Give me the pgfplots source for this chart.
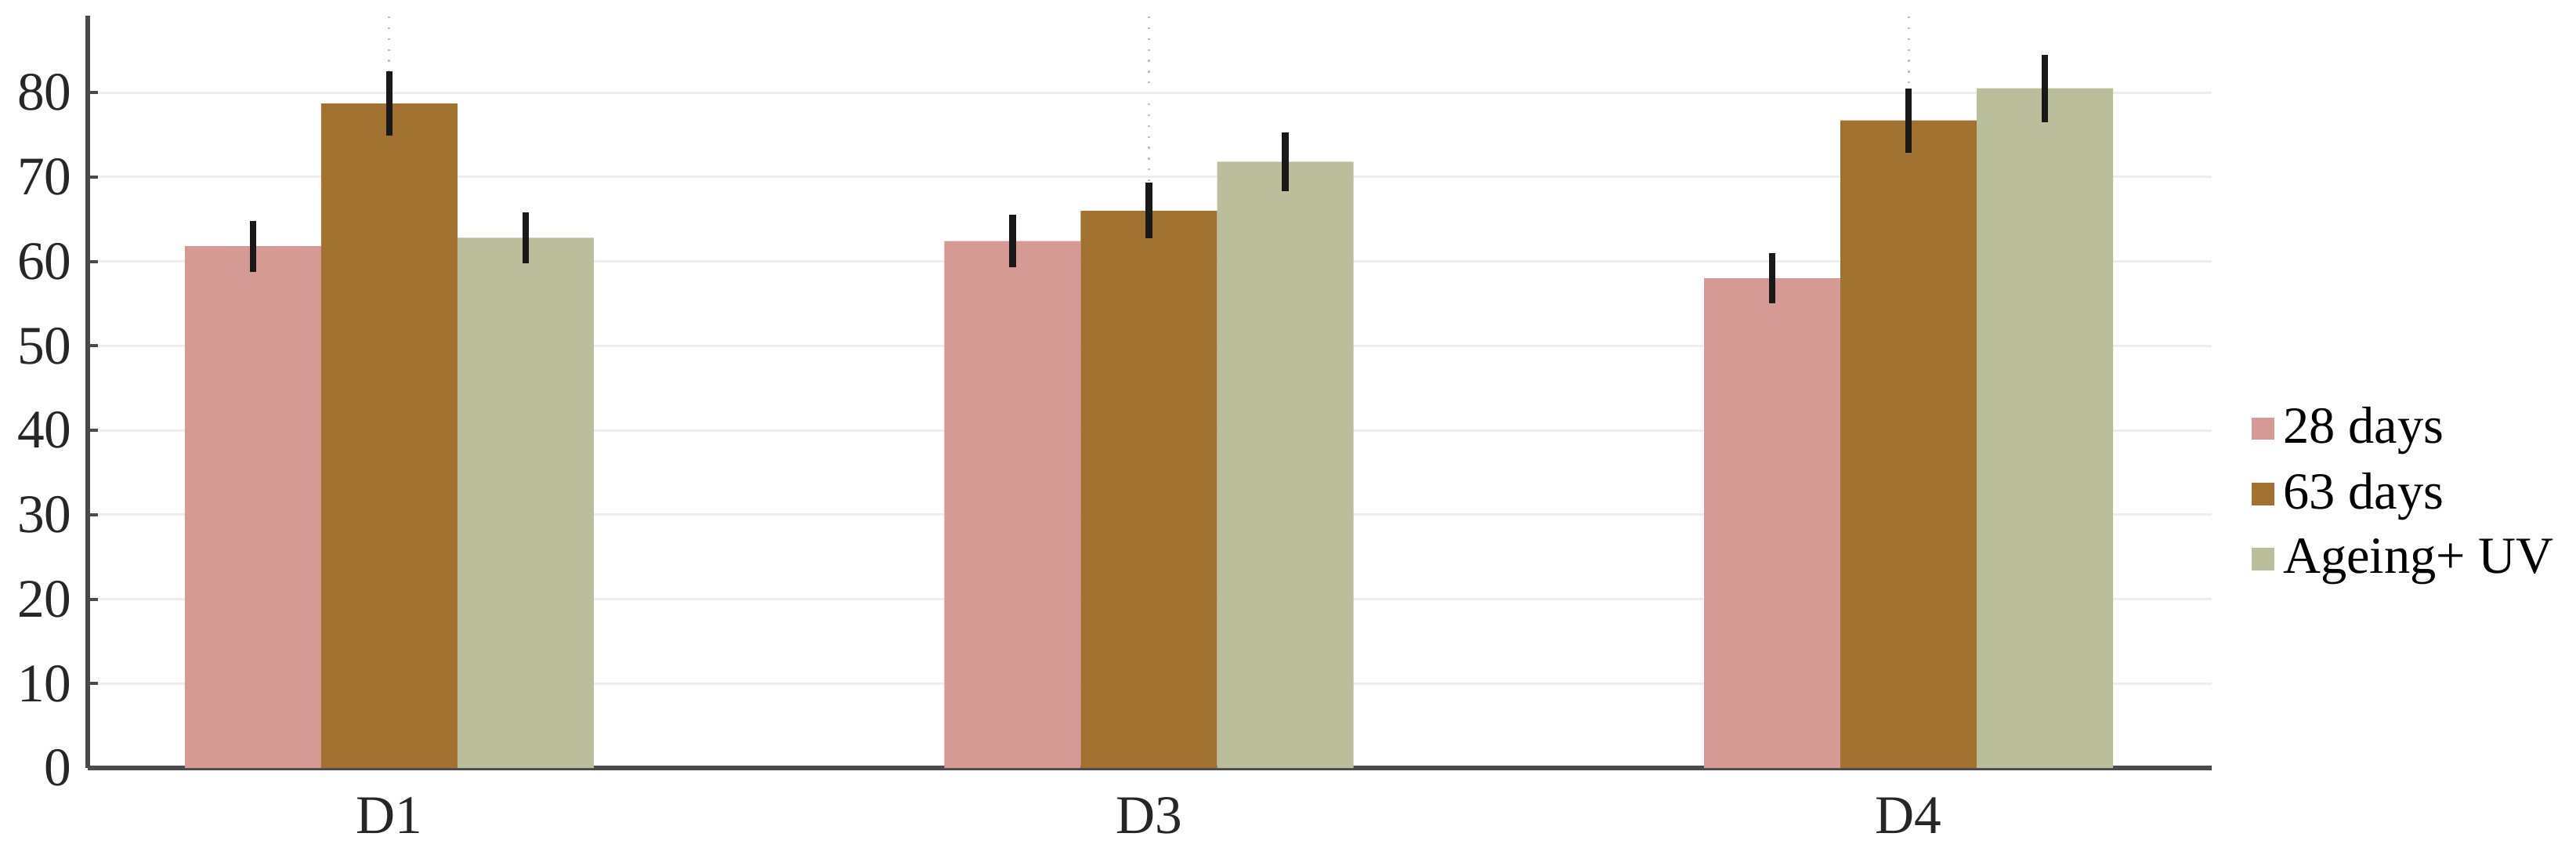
\documentclass[border=0pt]{standalone}
\usepackage{fontspec}
\setmainfont{Liberation Serif}
\usepackage{pgfplots}
\usepackage{pgfplotstable}
\pgfplotsset{compat=1.18}
\definecolor{d28}{HTML}{D69A94}
\definecolor{d63}{HTML}{A0712F}
\definecolor{duv}{HTML}{BBBE9B}
\definecolor{axisgray}{HTML}{4A4A4A}
\definecolor{gridc}{HTML}{EEEEEE}

% value and error per sample
\pgfplotstableread{
x val28 err28 val63 err63 valuv erruv
0 61.8 3.0 78.7 3.8 62.8 3.0
1 62.4 3.1 66.0 3.3 71.8 3.5
2 58.0 3.0 76.7 3.8 80.5 4.0
}\datatable

\pgfplotsset{
  sqleg/.style={legend image code/.code={\fill[##1] (0cm,-0.0875cm) rectangle (0.175cm,0.0875cm);}},
}

\begin{document}
\begin{tikzpicture}
\begin{axis}[
  scale only axis,
  width=16.49cm,
  height=5.84cm,
  ybar=0pt,
  bar width=0.1795,
  xmin=-0.397, xmax=2.399,
  ymin=0, ymax=89.1,
  xtick={0,1,2},
  xticklabels={D1,D3,D4},
  ytick={0,10,...,80},
  axis x line*=bottom,
  axis y line*=left,
  axis line style={-, draw=axisgray, line width=1pt},
  tick align=inside,
  major tick length=0.08cm,
  ytick style={draw=axisgray, line width=0.7pt},
  xtick style={draw=none},
  ymajorgrids,
  xmajorgrids,
  y grid style={draw=gridc, line width=0.5pt},
  x grid style={draw=black!25, dotted, line width=0.5pt},
  tick label style={font=\fontsize{12}{14}\selectfont, text=black!85},
  x tick label style={yshift=-3pt},
  /pgf/number format/assume math mode=true,
  legend style={at={(1.012,0.365)}, anchor=west, draw=none, fill=none,
    font=\fontsize{11.5}{13.5}\selectfont, row sep=1pt,
    /tikz/every even column/.append style={column sep=0.17cm}},
  legend cell align=left,
  error bars/error bar style={line width=1.5pt, draw=black!90},
]
\addplot[fill=d28, draw=none, bar shift=-0.1795, sqleg,
  error bars/.cd, y dir=both, y explicit, error mark=none]
  table[x=x, y=val28, y error=err28] {\datatable};
\addplot[fill=d63, draw=none, bar shift=0, sqleg,
  error bars/.cd, y dir=both, y explicit, error mark=none]
  table[x=x, y=val63, y error=err63] {\datatable};
\addplot[fill=duv, draw=none, bar shift=0.1795, sqleg,
  error bars/.cd, y dir=both, y explicit, error mark=none]
  table[x=x, y=valuv, y error=erruv] {\datatable};
\legend{28 days, 63 days, Ageing+ UV}
\end{axis}
\pgfresetboundingbox
\path[use as bounding box] (-0.681cm,-0.724cm) rectangle (19.319cm,5.9617cm);
\end{tikzpicture}
\end{document}
